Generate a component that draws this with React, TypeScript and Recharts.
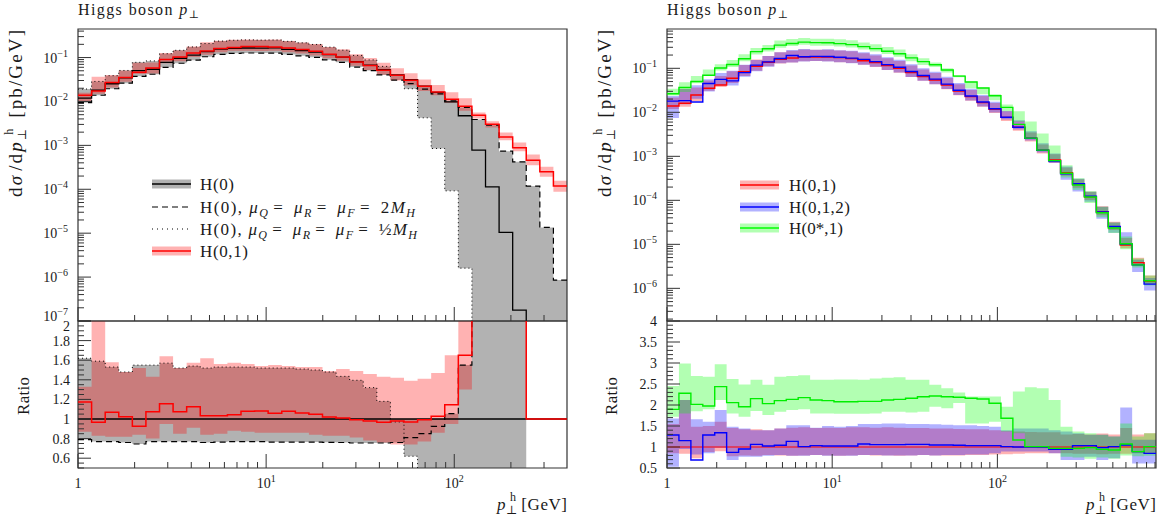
import React from "react";
import {
  ComposedChart,
  Line,
  Area,
  XAxis,
  YAxis,
  ReferenceLine,
  ReferenceArea,
} from "recharts";

const FONT = '"Liberation Serif", "DejaVu Serif", serif';
const INK = "#1a1a1a";
const TICK_COL = "#333";

// bin edges (GeV), log spaced
const EDGES = [
  1, 1.181, 1.395, 1.647, 1.945, 2.296, 2.712, 3.202, 3.781, 4.465, 5.272,
  6.226, 7.352, 8.681, 10.25, 12.11, 14.3, 16.88, 19.93, 23.54, 27.8, 32.82,
  38.76, 45.77, 54.05, 63.83, 75.37, 89.0, 105.1, 124.1, 146.6, 173.1, 204.4,
  241.3, 285.0, 336.5, 397.4, 469.3, 554.2, 654.4, 772.7, 912.5,
];

// ---- left panel: H(0) with scale variations vs H(0,1) ----
const H0 = [
  0.01185, 0.018, 0.0253, 0.0343, 0.0502, 0.0541, 0.0779, 0.0963, 0.1133,
  0.1371, 0.155, 0.162, 0.165, 0.1645, 0.1654, 0.154, 0.1433, 0.1326, 0.1167,
  0.1025, 0.0802, 0.067, 0.0533, 0.0404, 0.0315, 0.0224, 0.0161, 0.00983,
  0.00473, 0.000778, 0.000114, 1.04e-5, 1.77e-7, 0, 0, 0,
];
const H0_2MH = [
  0.00936, 0.01386, 0.0195, 0.0261, 0.0374, 0.0417, 0.06, 0.0742, 0.0872,
  0.1042, 0.1186, 0.1247, 0.127, 0.1267, 0.1265, 0.1178, 0.1096, 0.1014,
  0.0889, 0.0779, 0.0606, 0.0506, 0.0402, 0.0307, 0.0255, 0.019, 0.0149,
  0.01036, 0.00733, 0.00388, 0.00288, 0.000738, 0.000422, 0.000118, 1.35e-5,
  8.55e-7,
];
const H0_HALF = [
  0.0192, 0.0286, 0.0387, 0.0508, 0.0778, 0.0839, 0.1223, 0.1464, 0.1745,
  0.2084, 0.2372, 0.2479, 0.2525, 0.25, 0.2514, 0.234, 0.2164, 0.1989, 0.1727,
  0.1471, 0.1119, 0.0884, 0.0629, 0.0392, 0.0195, 0.00424, 0.00085, 9.2e-5,
  1.6e-6, 0, 0, 0, 0, 0, 0, 0,
];
const H01 = [
  0.0139, 0.0174, 0.027, 0.0351, 0.0464, 0.0582, 0.09, 0.1035, 0.1276, 0.1418,
  0.1603, 0.169, 0.178, 0.178, 0.175, 0.166, 0.152, 0.139, 0.119, 0.1035,
  0.0796, 0.0657, 0.0515, 0.0396, 0.0305, 0.0222, 0.0165, 0.01127, 0.0078,
  0.00487, 0.00304, 0.00156, 0.00088, 0.00046, 0.00025, 0.000118,
];
const H01_LO = [
  0.01031, 0.01494, 0.02075, 0.02813, 0.04217, 0.04328, 0.074, 0.08186,
  0.1031, 0.1152, 0.1318, 0.1426, 0.1436, 0.1415, 0.1422, 0.1324, 0.1232,
  0.1114, 0.0969, 0.0851, 0.065, 0.0523, 0.0405, 0.0299, 0.0233, 0.0172,
  0.01385, 0.00934, 0.00615, 0.00409, 0.00255, 0.00131, 0.000738, 0.000354,
  0.000192, 8.75e-5,
];
const H01_HI = [
  0.01576, 0.0365, 0.03997, 0.05076, 0.0763, 0.07736, 0.1278, 0.1464, 0.1784,
  0.2221, 0.2418, 0.2552, 0.2574, 0.2533, 0.2564, 0.2372, 0.2192, 0.2029,
  0.1739, 0.1548, 0.1195, 0.0978, 0.0762, 0.0574, 0.0438, 0.0316, 0.02367,
  0.01622, 0.0118, 0.0056, 0.00356, 0.00196, 0.00116, 0.00062, 0.000324,
  0.000156,
];

// left ratio (to H(0)); null where H(0) is empty
const R_H01 = [
  1.173, 0.966, 1.068, 1.024, 0.925, 1.075, 1.156, 1.075, 1.126, 1.034, 1.034,
  1.044, 1.078, 1.082, 1.058, 1.078, 1.061, 1.048, 1.02, 1.01, 0.993, 0.98,
  0.966, 0.98, 0.969, 0.993, 1.027, 1.146, 1.65, 6.3, 26.7, 150, 4970, 1, 1, 1,
];
const R_2MH = [
  0.79, 0.77, 0.77, 0.76, 0.745, 0.77, 0.77, 0.77, 0.77, 0.76, 0.765, 0.77,
  0.77, 0.77, 0.765, 0.765, 0.765, 0.765, 0.762, 0.76, 0.755, 0.755, 0.755,
  0.76, 0.81, 0.85, 0.925, 1.054, 1.55, 5.0, 25, 71, 2380, null, null, null,
];
const R_HALF = [
  1.62, 1.59, 1.53, 1.48, 1.55, 1.55, 1.57, 1.52, 1.54, 1.52, 1.53, 1.53, 1.53,
  1.52, 1.52, 1.52, 1.51, 1.5, 1.48, 1.435, 1.395, 1.32, 1.18, 0.97, 0.62,
  0.19, 0.053, 0.0094, 0.0003, 0, 0, 0, 0, null, null, null,
];
const R_H01_LO = [
  0.87, 0.83, 0.82, 0.82, 0.84, 0.8, 0.95, 0.85, 0.91, 0.84, 0.85, 0.88, 0.87,
  0.86, 0.86, 0.86, 0.86, 0.84, 0.83, 0.83, 0.81, 0.78, 0.76, 0.74, 0.74, 0.77,
  0.86, 0.95, 1.3, 2.5, 2.5, 2.5, 2.5, null, null, null,
];
const R_H01_HI = [
  1.33, 2.3, 1.58, 1.48, 1.52, 1.43, 1.64, 1.52, 1.575, 1.62, 1.56, 1.575,
  1.56, 1.54, 1.55, 1.54, 1.53, 1.53, 1.49, 1.51, 1.49, 1.46, 1.43, 1.42, 1.39,
  1.41, 1.47, 1.65, 2.5, 10, 10, 10, 10, null, null, null,
];

// ---- right panel: H(0,1) reference, H(0,1,2), H(0*,1) ----
const RED = [
  0.01393, 0.01603, 0.02478, 0.0351, 0.0418, 0.0593, 0.084, 0.111, 0.1368,
  0.1603, 0.1718, 0.181, 0.181, 0.181, 0.1746, 0.166, 0.149, 0.1345, 0.115,
  0.1, 0.0798, 0.0647, 0.0543, 0.0418, 0.0305, 0.0227, 0.0166, 0.0117,
  0.00769, 0.00456, 0.00257, 0.00137, 0.000826, 0.000426, 0.000231, 0.000121,
  5.52e-5, 2.52e-5, 9.66e-6, 3.83e-6, 1.47e-6,
];
const R_BLUE = [
  1.286, 1.151, 0.69, 1.286, 1.341, 0.873, 0.952, 1.063, 1.024, 1.04, 1.135,
  1.008, 1.032, 1.024, 1.024, 1.024, 1.071, 1.056, 1.056, 1.056, 1.063, 1.063,
  1.048, 1.048, 1.04, 1.032, 1.032, 1.032, 1.008, 1.0, 1.0, 1.0, 0.944, 0.944,
  1.032, 1.032, 0.984, 1.008, 1.048, 0.889, 0.849,
];
const R_GREEN = [
  1.897, 2.278, 2.016, 1.976, 2.437, 2.056, 1.96, 2.151, 2.032, 2.103, 2.135,
  2.175, 2.119, 2.103, 2.079, 2.079, 2.087, 2.087, 2.119, 2.135, 2.159, 2.198,
  2.214, 2.198, 2.183, 2.159, 2.143, 2.04, 1.683, 1.167, 1.008, 1.008, 0.968,
  0.968, 0.968, 0.984, 0.944, 0.929, 1.071, 0.889, 1.008,
];
const R_RED_LO = [
  0.85, 0.84, 0.73, 0.88, 0.9, 0.78, 0.8, 0.79, 0.81, 0.8, 0.79, 0.8, 0.81,
  0.8, 0.79, 0.8, 0.81, 0.8, 0.8, 0.79, 0.8, 0.81, 0.8, 0.8, 0.8, 0.81, 0.81,
  0.82, 0.83, 0.84, 0.85, 0.85, 0.85, 0.85, 0.84, 0.84, 0.83, 0.84, 0.84, 0.85,
  0.85,
];
const R_RED_HI = [
  1.55, 2.12, 1.48, 1.5, 1.6, 1.45, 1.42, 1.42, 1.4, 1.44, 1.46, 1.47, 1.45,
  1.46, 1.45, 1.47, 1.47, 1.46, 1.47, 1.46, 1.45, 1.45, 1.44, 1.44, 1.43, 1.42,
  1.42, 1.4, 1.38, 1.37, 1.36, 1.35, 1.35, 1.3, 1.31, 1.3, 1.32, 1.3, 1.45,
  1.3, 1.33,
];
const R_BLUE_LO = [
  0.53, 0.95, 0.82, 0.85, 0.98, 0.69, 0.77, 0.77, 0.79, 0.81, 0.79, 0.79, 0.81,
  0.79, 0.79, 0.79, 0.81, 0.81, 0.8, 0.8, 0.8, 0.81, 0.8, 0.81, 0.81, 0.82,
  0.82, 0.85, 0.89, 0.89, 0.89, 0.89, 0.85, 0.69, 0.69, 0.77, 0.69, 0.73, 1.01,
  0.61, 0.61,
];
const R_BLUE_HI = [
  1.68, 2.12, 1.66, 1.6, 1.88, 1.48, 1.44, 1.4, 1.4, 1.44, 1.52, 1.52, 1.46,
  1.5, 1.48, 1.5, 1.55, 1.55, 1.56, 1.56, 1.55, 1.55, 1.54, 1.53, 1.52, 1.52,
  1.5, 1.48, 1.4, 1.44, 1.44, 1.44, 1.4, 1.37, 1.33, 1.29, 1.29, 1.25, 1.94,
  1.17, 1.17,
];
const R_GREEN_LO = [
  1.72, 1.8, 1.85, 1.9, 2.12, 1.8, 1.72, 1.86, 1.76, 1.84, 1.88, 1.9, 1.8, 1.8,
  1.79, 1.79, 1.79, 1.8, 1.84, 1.84, 1.82, 1.84, 1.96, 1.92, 2.05, 1.56, 1.56,
  1.6, 1.37, 1.33, 1.01, 0.97, 0.93, 0.77, 0.75, 0.72, 0.75, 0.72, 0.8, 0.78,
  0.79,
];
const R_GREEN_HI = [
  2.45, 2.99, 2.69, 2.67, 2.97, 2.62, 2.49, 2.6, 2.48, 2.67, 2.69, 2.71, 2.6,
  2.6, 2.61, 2.61, 2.6, 2.63, 2.65, 2.66, 2.6, 2.6, 2.48, 2.4, 2.3, 2.2, 2.2,
  2.2, 1.96, 2.32, 2.42, 2.4, 2.12, 1.48, 1.37, 1.33, 1.29, 1.25, 1.56, 1.25,
  1.33,
];

// axis ticks
const X_MAJOR = [1, 10, 100];
const MAIN_Y_MAJOR = [1e-7, 1e-6, 1e-5, 1e-4, 1e-3, 1e-2, 1e-1];
const LEFT_R_MAJOR = [0.6, 0.8, 1, 1.2, 1.4, 1.6, 1.8, 2];
const RIGHT_R_MAJOR = [0.5, 1, 1.5, 2, 2.5, 3, 3.5, 4];

const LEFT_X = [1, 397.4];
const RIGHT_X = [1, 912.5];
const LEFT_Y = [1e-7, 0.447];
const RIGHT_Y = [1.81e-7, 0.782];
const LEFT_RY = [0.5, 2];
const RIGHT_RY = [0.5, 4];

const logTicks = (majors: number[], lo: number, hi: number) =>
  majors
    .flatMap((m) => [1, 2, 3, 4, 5, 6, 7, 8, 9].map((d) => d * m))
    .filter((v) => v >= lo * 0.999 && v <= hi * 1.001);
const linTicks = (lo: number, hi: number, step: number) => {
  const out: number[] = [];
  for (let v = lo; v <= hi + 1e-9; v += step) out.push(Math.round(v * 1000) / 1000);
  return out;
};
const isIn = (list: number[], v: number) =>
  list.some((m) => Math.abs(m - v) <= 1e-6 * Math.abs(m));

const ZERO = 1e-12;
const pos = (v: number) => (v > 0 ? v : ZERO);

type Val = number | [number, number] | null;

// two points per bin so bins become flat steps, and empty bins break the path
function stepRows(n: number, cols: Record<string, (k: number) => Val>) {
  const rows: Record<string, Val>[] = [];
  for (let k = 0; k < n; k++) {
    [EDGES[k], EDGES[k + 1]].forEach((x) => {
      const row: Record<string, Val> = { x };
      Object.keys(cols).forEach((c) => (row[c] = cols[c](k)));
      rows.push(row);
    });
  }
  return rows;
}

const leftMain = stepRows(36, {
  grey: (k) => [
    pos(Math.min(H0[k], H0_2MH[k], H0_HALF[k])),
    pos(Math.max(H0[k], H0_2MH[k], H0_HALF[k])),
  ],
  h0: (k) => pos(H0[k]),
  dash: (k) => pos(H0_2MH[k]),
  dot: (k) => pos(H0_HALF[k]),
  redBand: (k) => [H01_LO[k], H01_HI[k]],
  red: (k) => H01[k],
});

const leftRatio = stepRows(36, {
  grey: (k) => {
    const a = R_2MH[k];
    const b = R_HALF[k];
    if (a == null || b == null) return null;
    return [Math.min(1, a, b), Math.max(1, a, b)];
  },
  dash: (k) => R_2MH[k],
  dot: (k) => R_HALF[k],
  redBand: (k) =>
    R_H01_LO[k] == null ? null : [R_H01_LO[k] as number, R_H01_HI[k] as number],
  red: (k) => R_H01[k],
});

const rightMain = stepRows(41, {
  redBand: (k) => [RED[k] * R_RED_LO[k], RED[k] * R_RED_HI[k]],
  red: (k) => RED[k],
  blueBand: (k) => [RED[k] * R_BLUE_LO[k], RED[k] * R_BLUE_HI[k]],
  blue: (k) => RED[k] * R_BLUE[k],
  greenBand: (k) => [RED[k] * R_GREEN_LO[k], RED[k] * R_GREEN_HI[k]],
  green: (k) => RED[k] * R_GREEN[k],
});

const rightRatio = stepRows(41, {
  redBand: (k) => [R_RED_LO[k], R_RED_HI[k]],
  blueBand: (k) => [R_BLUE_LO[k], R_BLUE_HI[k]],
  blue: (k) => R_BLUE[k],
  greenBand: (k) => [R_GREEN_LO[k], R_GREEN_HI[k]],
  green: (k) => R_GREEN[k],
});

// ---- tick renderers (ticks point into the plot, like the original) ----
const sup = (e: string) => (
  <tspan dy={-6} fontSize={10}>
    {e}
  </tspan>
);
const xLabel = (v: number) => {
  const e = Math.round(Math.log10(v));
  return e === 0 ? "1" : (
    <>
      10{sup(String(e))}
    </>
  );
};
const yExpLabel = (v: number) => {
  const e = Math.round(Math.log10(v));
  return (
    <>
      10{sup(e < 0 ? `\u2212${-e}` : String(e))}
    </>
  );
};
const ratioLabel = (v: number) => String(v);

const makeXTick = (labels: boolean) => (p: any) => {
  const v = p.payload.value;
  const major = isIn(X_MAJOR, v);
  return (
    <g>
      <line x1={p.x} x2={p.x} y1={p.y} y2={p.y - (major ? 14 : 6)} stroke={TICK_COL} strokeWidth={1} />
      {labels && major && (
        <text x={p.x} y={p.y + 20} textAnchor="middle" fontFamily={FONT} fontSize={14} fill={INK}>
          {xLabel(v)}
        </text>
      )}
    </g>
  );
};

// edge: label sitting on the shared main/ratio border, nudged so the two don't collide
const makeYTick =
  (majors: number[], fmt: (v: number) => React.ReactNode, gap: number, edge?: { v: number; dy: number }) =>
  (p: any) => {
    const v = p.payload.value;
    const major = isIn(majors, v);
    const dy = edge && isIn([edge.v], v) ? edge.dy : 0;
    return (
      <g>
        <line x1={p.x} x2={p.x + (major ? 13 : 6)} y1={p.y} y2={p.y} stroke={TICK_COL} strokeWidth={1} />
        {major && (
          <text x={p.x - gap} y={p.y + 5 + dy} textAnchor="end" fontFamily={FONT} fontSize={14} fill={INK}>
            {fmt(v)}
          </text>
        )}
      </g>
    );
  };

const xTicks = (max: number) => logTicks(X_MAJOR, 1, max);

// axes get a 1px band (recharts skips zero-sized axes); margins absorb it
const axisCommon = {
  allowDataOverflow: true,
  interval: 0 as const,
  axisLine: false,
  tickLine: false,
  tickSize: 0,
  tickMargin: 0,
};

const frame = (x: number[], y: number[]) => (
  <ReferenceArea
    x1={x[0]}
    x2={x[1]}
    y1={y[0]}
    y2={y[1]}
    fill="none"
    stroke="#333"
    strokeWidth={1.2}
    ifOverflow="visible"
  />
);

const line = (key: string, color: string, width = 1.3, dash?: string) => (
  <Line
    dataKey={key}
    type="linear"
    stroke={color}
    strokeWidth={width}
    strokeDasharray={dash}
    dot={false}
    activeDot={false}
    isAnimationActive={false}
    connectNulls={false}
  />
);
const band = (key: string, color: string) => (
  <Area
    dataKey={key}
    type="linear"
    stroke="none"
    fill={color}
    fillOpacity={0.3}
    dot={false}
    activeDot={false}
    isAnimationActive={false}
    connectNulls={false}
  />
);

// ---- text overlay ----
const Title = ({ x }: { x: number }) => (
  <text x={x} y={15} fontSize={16} textLength={121} lengthAdjust="spacing">
    Higgs boson <tspan fontStyle="italic">p</tspan>
    <tspan fontSize={11} dy={3}>
      ⊥
    </tspan>
  </text>
);
const YLabel = ({ x }: { x: number }) => (
  <text
    transform={`translate(${x},30) rotate(-90)`}
    textAnchor="end"
    fontSize={19}
    textLength={167}
    lengthAdjust="spacing"
  >
    d<tspan fontStyle="italic">σ</tspan>
    <tspan dx={3}>/d</tspan>
    <tspan fontStyle="italic">p</tspan>
    <tspan fontSize={12} dy={4}>
      ⊥
    </tspan>
    <tspan fontSize={12} dx={-8} dy={-13}>
      h
    </tspan>
    <tspan dy={9} dx={2}>
      {" "}[pb/GeV]
    </tspan>
  </text>
);
const RatioLabel = ({ x }: { x: number }) => (
  <text transform={`translate(${x},396) rotate(-90)`} textAnchor="middle" fontSize={17} textLength={38} lengthAdjust="spacing">
    Ratio
  </text>
);
const XLabel = ({ x }: { x: number }) => (
  <text x={x} y={510} textAnchor="end" fontSize={17} textLength={70} lengthAdjust="spacing">
    <tspan fontStyle="italic">p</tspan>
    <tspan fontSize={12} dy={4}>
      ⊥
    </tspan>
    <tspan fontSize={12} dx={-8} dy={-13}>
      h
    </tspan>
    <tspan dy={9}> [GeV]</tspan>
  </text>
);

const Sub = ({ c }: { c: string }) => (
  <>
    <tspan fontSize={12} dy={4} fontStyle="italic">
      {c}
    </tspan>
    <tspan dy={-4} dx={4}>
      =
    </tspan>
    <tspan dx={4}> </tspan>
  </>
);

function LegendSample({ x, y, color, bandColor, dash }: any) {
  return (
    <g>
      {bandColor && <rect x={x} y={y - 4.5} width={39} height={9} fill={bandColor} fillOpacity={0.3} />}
      <line x1={x} x2={x + 39} y1={y} y2={y} stroke={color} strokeWidth={dash ? 1.2 : 1.5} strokeDasharray={dash} />
    </g>
  );
}

function Overlay() {
  const L = 152;
  const R = 740;
  return (
    <svg
      width={1163}
      height={523}
      style={{ position: "absolute", left: 0, top: 0, pointerEvents: "none" }}
      fontFamily={FONT}
      fill={INK}
    >
      <Title x={78} />
      <Title x={667} />
      <YLabel x={22} />
      <YLabel x={611} />
      <RatioLabel x={29} />
      <RatioLabel x={617} />
      <XLabel x={567} />
      <XLabel x={1156} />

      <LegendSample x={L} y={184} color="#000" bandColor="#000" />
      <text x={L + 48} y={190} fontSize={17} textLength={34} lengthAdjust="spacing">
        H(0)
      </text>
      <LegendSample x={L} y={207} color="#000" dash="6 4" />
      <text x={L + 48} y={213} fontSize={17} textLength={215} lengthAdjust="spacing">
        H(0), <tspan fontStyle="italic">μ</tspan>
        <Sub c="Q" />
        <tspan fontStyle="italic">μ</tspan>
        <Sub c="R" />
        <tspan fontStyle="italic">μ</tspan>
        <Sub c="F" />2<tspan fontStyle="italic">M</tspan>
        <tspan fontSize={12} dy={4} fontStyle="italic">
          H
        </tspan>
      </text>
      <LegendSample x={L} y={229} color="#000" dash="1 4" />
      <text x={L + 48} y={235} fontSize={17} textLength={217} lengthAdjust="spacing">
        H(0), <tspan fontStyle="italic">μ</tspan>
        <Sub c="Q" />
        <tspan fontStyle="italic">μ</tspan>
        <Sub c="R" />
        <tspan fontStyle="italic">μ</tspan>
        <Sub c="F" />½<tspan fontStyle="italic">M</tspan>
        <tspan fontSize={12} dy={4} fontStyle="italic">
          H
        </tspan>
      </text>
      <LegendSample x={L} y={251} color="#ff0000" bandColor="#ff0000" />
      <text x={L + 48} y={257} fontSize={17} textLength={48} lengthAdjust="spacing">
        H(0,1)
      </text>

      <LegendSample x={R} y={185} color="#ff0000" bandColor="#ff0000" />
      <text x={R + 49} y={191} fontSize={17} textLength={47} lengthAdjust="spacing">
        H(0,1)
      </text>
      <LegendSample x={R} y={207} color="#0000ff" bandColor="#0000ff" />
      <text x={R + 49} y={213} fontSize={17} textLength={61} lengthAdjust="spacing">
        H(0,1,2)
      </text>
      <LegendSample x={R} y={228} color="#00ff00" bandColor="#00ff00" />
      <text x={R + 49} y={234} fontSize={17} textLength={54} lengthAdjust="spacing">
        H(0*,1)
      </text>
    </svg>
  );
}

const abs = (left: number, top: number): React.CSSProperties => ({
  position: "absolute",
  left,
  top,
});

export default function App() {
  const leftYTicks = logTicks(MAIN_Y_MAJOR, LEFT_Y[0], LEFT_Y[1]);
  const rightYTicks = logTicks(MAIN_Y_MAJOR, RIGHT_Y[0], RIGHT_Y[1]);
  return (
    <div style={{ position: "absolute", left: 0, top: 0, width: 1163, height: 523, background: "#fff" }}>
      {/* left, main */}
      <div style={abs(0, 0)}>
        <ComposedChart width={585} height={330} data={leftMain} margin={{ top: 29, right: 18, bottom: 8, left: 77 }}>
          <XAxis dataKey="x" type="number" scale="log" domain={LEFT_X} ticks={xTicks(LEFT_X[1])} height={1} tick={makeXTick(false)} {...axisCommon} />
          <YAxis
            type="number"
            scale="log"
            domain={LEFT_Y}
            ticks={leftYTicks}
            width={1}
            tick={makeYTick(MAIN_Y_MAJOR, yExpLabel, 10, { v: LEFT_Y[0], dy: -5 })}
            {...axisCommon}
          />
          {band("grey", "#000")}
          {line("h0", "#000", 1.3)}
          {line("dash", "#000", 1.2, "6 4")}
          {line("dot", "#000", 1, "1 3")}
          {band("redBand", "#ff0000")}
          {line("red", "#ff0000", 1.5)}
          {frame(LEFT_X, LEFT_Y)}
        </ComposedChart>
      </div>
      {/* left, ratio */}
      <div style={abs(0, 311)}>
        <ComposedChart width={585} height={212} data={leftRatio} margin={{ top: 10, right: 18, bottom: 54, left: 77 }}>
          <XAxis dataKey="x" type="number" scale="log" domain={LEFT_X} ticks={xTicks(LEFT_X[1])} height={1} tick={makeXTick(true)} {...axisCommon} />
          <YAxis
            type="number"
            domain={LEFT_RY}
            ticks={linTicks(0.5, 2, 0.05)}
            width={1}
            tick={makeYTick(LEFT_R_MAJOR, ratioLabel, 8, { v: LEFT_RY[1], dy: 5 })}
            {...axisCommon}
          />
          {band("grey", "#000")}
          <ReferenceLine y={1} stroke="#000" strokeWidth={1.3} />
          {line("dash", "#000", 1.2, "6 4")}
          {line("dot", "#000", 1, "1 3")}
          {band("redBand", "#ff0000")}
          {line("red", "#ff0000", 1.5)}
          {frame(LEFT_X, LEFT_RY)}
        </ComposedChart>
      </div>
      {/* right, main */}
      <div style={abs(585, 0)}>
        <ComposedChart width={578} height={330} data={rightMain} margin={{ top: 29, right: 7, bottom: 8, left: 81 }}>
          <XAxis dataKey="x" type="number" scale="log" domain={RIGHT_X} ticks={xTicks(RIGHT_X[1])} height={1} tick={makeXTick(false)} {...axisCommon} />
          <YAxis type="number" scale="log" domain={RIGHT_Y} ticks={rightYTicks} width={1} tick={makeYTick(MAIN_Y_MAJOR, yExpLabel, 10)} {...axisCommon} />
          {band("redBand", "#ff0000")}
          {line("red", "#ff0000", 1.4)}
          {band("blueBand", "#0000ff")}
          {line("blue", "#0000ff", 1.4)}
          {band("greenBand", "#00ff00")}
          {line("green", "#00ee00", 1.4)}
          {frame(RIGHT_X, RIGHT_Y)}
        </ComposedChart>
      </div>
      {/* right, ratio */}
      <div style={abs(585, 311)}>
        <ComposedChart width={578} height={212} data={rightRatio} margin={{ top: 10, right: 7, bottom: 54, left: 81 }}>
          <XAxis dataKey="x" type="number" scale="log" domain={RIGHT_X} ticks={xTicks(RIGHT_X[1])} height={1} tick={makeXTick(true)} {...axisCommon} />
          <YAxis type="number" domain={RIGHT_RY} ticks={linTicks(0.5, 4, 0.1)} width={1} tick={makeYTick(RIGHT_R_MAJOR, ratioLabel, 10)} {...axisCommon} />
          {band("redBand", "#ff0000")}
          <ReferenceLine y={1} stroke="#ff0000" strokeWidth={1.2} />
          {band("blueBand", "#0000ff")}
          {line("blue", "#0000ff", 1.4)}
          {band("greenBand", "#00ff00")}
          {line("green", "#00ee00", 1.4)}
          {frame(RIGHT_X, RIGHT_RY)}
        </ComposedChart>
      </div>
      <Overlay />
    </div>
  );
}
